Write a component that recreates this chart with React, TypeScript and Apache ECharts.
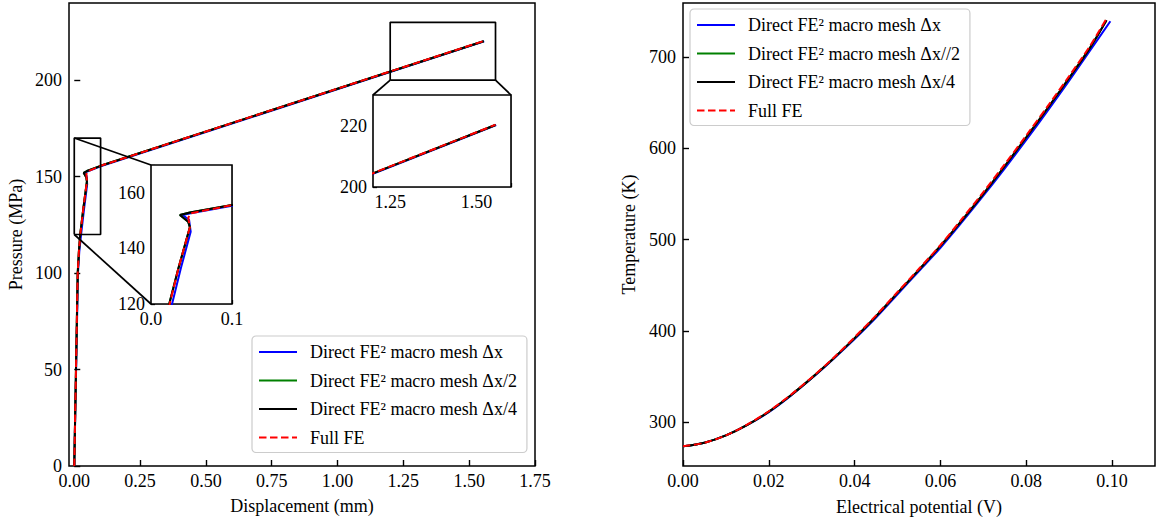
import React, { useEffect, useRef } from 'react';
import * as echarts from 'echarts';

const FONT = '"Liberation Serif", "Times New Roman", Times, serif';
const FS = 18;

const leftNames = ['Direct FE² macro mesh Δx', 'Direct FE² macro mesh Δx/2', 'Direct FE² macro mesh Δx/4', 'Full FE'];
const rightNames = ['Direct FE² macro mesh Δx', 'Direct FE² macro mesh Δx//2', 'Direct FE² macro mesh Δx/4', 'Full FE'];
const colors = ['#0000ff', '#008000', '#000000', '#ff0000'];

// axis ticks
const dispTicks = [0, 0.25, 0.5, 0.75, 1.0, 1.25, 1.5, 1.75];
const pressTicks = [0, 50, 100, 150, 200];
const potTicks = [0, 0.02, 0.04, 0.06, 0.08, 0.1];
const tempTicks = [300, 400, 500, 600, 700];
const inset1XLabels = [0, 0.1];
const inset1YLabels = [120, 140, 160];
const inset2XLabels = [1.25, 1.5];
const inset2YLabels = [200, 220];

// zoom windows (data units)
const zoom1X = [0, 0.1];
const zoom1Y = [120, 170];
const zoom2X = [1.2, 1.6];
const zoom2Y = [200, 230];

// Left: displacement (mm) vs pressure (MPa)
const dispDx = [0, 0.007, 0.014, 0.019, 0.026, 0.037, 0.049, 0.047, 0.039, 0.049, 0.1, 1.557];
const pressDx = [0, 50, 100, 111, 120, 133, 146, 150.3, 152, 152.6, 155.3, 220.2];
const dispDx2 = [0, 0.0065, 0.013, 0.0175, 0.0225, 0.034, 0.048, 0.0459, 0.0357, 0.048, 0.1, 1.555];
const pressDx2 = [0, 50, 100, 111, 120, 133, 147.6, 149.6, 152, 152.9, 155.6, 220.2];
const dispDx4 = [0, 0.0065, 0.013, 0.0175, 0.0225, 0.034, 0.048, 0.0459, 0.0357, 0.048, 0.1, 1.555];
const pressDx4 = [0, 50, 100, 111, 120, 133, 147.6, 149.6, 152, 152.9, 155.6, 220.2];
const dispFE = [0, 0.0065, 0.013, 0.0175, 0.023, 0.034, 0.048, 0.046, 0.049, 0.1, 1.555];
const pressFE = [0, 50, 100, 111, 120, 133, 147.6, 151, 152.6, 155.6, 220.3];

// Right: electrical potential (V) vs temperature (K)
const potDx = [0, 0.005, 0.01, 0.015, 0.02, 0.025, 0.03, 0.035, 0.04, 0.045, 0.05, 0.055, 0.06, 0.065, 0.07, 0.075, 0.08, 0.085, 0.09, 0.095, 0.0996];
const tempDx = [273.5, 277.5, 285.5, 297, 311, 328.5, 348, 369, 391, 414.5, 440, 465.5, 491, 519, 548, 578, 609, 641, 674, 708, 739];
const potDx2 = [0, 0.005, 0.01, 0.015, 0.02, 0.025, 0.03, 0.035, 0.04, 0.045, 0.05, 0.055, 0.06, 0.065, 0.07, 0.075, 0.08, 0.085, 0.09, 0.095, 0.0987];
const tempDx2 = [273.5, 277.5, 285.5, 297, 311.5, 329, 348.5, 369.5, 392, 416, 441.5, 467, 493, 521, 550, 580.5, 612, 644, 677, 711, 740];
const potDx4 = [0, 0.005, 0.01, 0.015, 0.02, 0.025, 0.03, 0.035, 0.04, 0.045, 0.05, 0.055, 0.06, 0.065, 0.07, 0.075, 0.08, 0.085, 0.09, 0.095, 0.0987];
const tempDx4 = [273.5, 277.5, 285.5, 297, 311.5, 329, 348.5, 369.5, 392, 416, 441.5, 467, 493, 521, 550, 580.5, 612, 644, 677, 711, 740];
const potFE = [0, 0.005, 0.01, 0.015, 0.02, 0.025, 0.03, 0.035, 0.04, 0.045, 0.05, 0.055, 0.06, 0.065, 0.07, 0.075, 0.08, 0.085, 0.09, 0.095, 0.0987];
const tempFE = [273.5, 277.5, 285.5, 297.5, 312, 329.5, 349, 370, 393, 417, 442.5, 468, 494, 522.5, 552, 582.5, 614, 646, 679, 713, 742];

const pairs = (xs: number[], ys: number[]) => xs.map((x, i) => [x, ys[i]]);
const near = (a: number, list: number[]) => list.some((b) => Math.abs(a - b) < 1e-6);

const leftData = [pairs(dispDx, pressDx), pairs(dispDx2, pressDx2), pairs(dispDx4, pressDx4), pairs(dispFE, pressFE)];
const rightData = [pairs(potDx, tempDx), pairs(potDx2, tempDx2), pairs(potDx4, tempDx4), pairs(potFE, tempFE)];

const labelStyle = { color: '#000', fontFamily: FONT, fontSize: FS };

function mainAxis(gi: number, min: number, max: number, ticks: number[], fmt: (v: number) => string, name: string, nameGap: number, isX: boolean) {
  return {
    gridIndex: gi,
    type: 'value',
    min,
    max,
    name,
    nameLocation: 'middle',
    nameGap,
    nameTextStyle: { ...labelStyle },
    axisLine: { show: false },
    axisTick: { show: true, inside: true, length: 6, customValues: ticks, lineStyle: { color: '#000', width: 1.4 } },
    axisLabel: { ...labelStyle, customValues: ticks, formatter: fmt, margin: isX ? 6 : 7 },
    splitLine: { show: false },
  };
}

function insetAxis(gi: number, min: number, max: number, interval: number, labels: number[], fmt: (v: number) => string) {
  return {
    gridIndex: gi,
    type: 'value',
    min,
    max,
    interval,
    axisLine: { show: false },
    axisTick: { show: true, inside: true, length: 4, lineStyle: { color: '#000', width: 1.3 } },
    axisLabel: { ...labelStyle, margin: 6, showMinLabel: true, showMaxLabel: true, formatter: (v: number) => (near(v, labels) ? fmt(v) : '') },
    splitLine: { show: true, lineStyle: { color: '#c4c4c4', width: 1 } },
  };
}

function lineSeries(name: string, gi: number, data: number[][], idx: number, z: number, smooth: boolean) {
  return {
    type: 'line',
    name,
    xAxisIndex: gi,
    yAxisIndex: gi,
    data,
    symbol: 'none',
    showSymbol: false,
    smooth: smooth ? 0.3 : false,
    clip: true,
    z,
    itemStyle: { color: colors[idx] },
    lineStyle: { color: colors[idx], width: 2, type: idx === 3 ? [7.5, 3.5] : 'solid' },
  };
}

function boxData(xs: number[], ys: number[]) {
  return [[xs[0], ys[0]], [xs[1], ys[0]], [xs[1], ys[1]], [xs[0], ys[1]], [xs[0], ys[0]]];
}

const legendBase = {
  orient: 'vertical',
  itemWidth: 38,
  itemHeight: 14,
  itemGap: 8.5,
  backgroundColor: 'rgba(255,255,255,0.85)',
  borderColor: '#cccccc',
  borderWidth: 1.2,
  borderRadius: 4,
  padding: [6, 10, 5, 6],
  itemStyle: { opacity: 0 },
  textStyle: { ...labelStyle, lineHeight: 20, padding: [0, 0, 0, 8] },
};

export default function App() {
  const ref = useRef<HTMLDivElement>(null);
  useEffect(() => {
    if (!ref.current) return;
    const chart = echarts.init(ref.current, null, { renderer: 'svg' });
    const series: any[] = [];
    [0, 1, 2].forEach((gi) => {
      leftNames.forEach((n, i) => series.push(lineSeries(n, gi, leftData[i], i, 3 + i, false)));
    });
    rightNames.forEach((n, i) => series.push(lineSeries(n, 3, rightData[i], i, 3 + i, true)));
    series.push({ type: 'line', name: 'zoom-box-1', xAxisIndex: 0, yAxisIndex: 0, data: boxData(zoom1X, zoom1Y), symbol: 'none', z: 8, lineStyle: { color: '#000', width: 1.7 }, itemStyle: { color: '#000' } });
    series.push({ type: 'line', name: 'zoom-box-2', xAxisIndex: 0, yAxisIndex: 0, data: boxData(zoom2X, zoom2Y), symbol: 'none', z: 8, lineStyle: { color: '#000', width: 1.7 }, itemStyle: { color: '#000' } });

    const option: any = {
      animation: false,
      backgroundColor: '#ffffff',
      textStyle: { fontFamily: FONT },
      grid: [
        { left: 69, top: 3, width: 466, height: 463, show: true, borderColor: '#000', borderWidth: 1.5, backgroundColor: 'transparent' },
        { left: 151, top: 165, width: 81, height: 139, show: true, borderColor: '#000', borderWidth: 1.6, backgroundColor: '#fff', z: 2 },
        { left: 373, top: 95, width: 138, height: 92, show: true, borderColor: '#000', borderWidth: 1.6, backgroundColor: '#fff', z: 2 },
        { left: 683, top: 3, width: 472, height: 463, show: true, borderColor: '#000', borderWidth: 1.5, backgroundColor: 'transparent' },
      ],
      xAxis: [
        mainAxis(0, -0.02, 1.75, dispTicks, (v) => v.toFixed(2), 'Displacement (mm)', 31, true),
        insetAxis(1, zoom1X[0], zoom1X[1], 0.02, inset1XLabels, (v) => v.toFixed(1)),
        insetAxis(2, zoom2X[0], zoom2X[1], 0.05, inset2XLabels, (v) => v.toFixed(2)),
        mainAxis(3, 0, 0.11, potTicks, (v) => v.toFixed(2), 'Electrical potential (V)', 32, true),
      ],
      yAxis: [
        mainAxis(0, 0, 240, pressTicks, (v) => String(v), 'Pressure (MPa)', 44, false),
        insetAxis(1, zoom1Y[0], zoom1Y[1], 5, inset1YLabels, (v) => String(Math.round(v))),
        insetAxis(2, zoom2Y[0], zoom2Y[1], 5, inset2YLabels, (v) => String(Math.round(v))),
        mainAxis(3, 252, 759, tempTicks, (v) => String(v), 'Temperature (K)', 45, false),
      ],
      legend: [
        { ...legendBase, left: 252, top: 336, data: leftNames },
        { ...legendBase, left: 690, top: 9, data: rightNames },
      ],
      series,
    };
    chart.setOption(option);

    const p = (gi: number, pt: number[]) => chart.convertToPixel({ xAxisIndex: gi, yAxisIndex: gi } as any, pt) as number[];
    const conn = (a: number[], b: number[]) => ({
      type: 'line',
      z: 10,
      shape: { x1: a[0], y1: a[1], x2: b[0], y2: b[1] },
      style: { stroke: '#000', lineWidth: 1.7 },
    });
    chart.setOption({
      graphic: [
        conn(p(0, [zoom1X[0], zoom1Y[1]]), p(1, [zoom1X[0], zoom1Y[1]])),
        conn(p(0, [zoom1X[0], zoom1Y[0]]), p(1, [zoom1X[0], zoom1Y[0]])),
        conn(p(0, [zoom2X[0], zoom2Y[0]]), p(2, [zoom2X[0], zoom2Y[1]])),
        conn(p(0, [zoom2X[1], zoom2Y[0]]), p(2, [zoom2X[1], zoom2Y[1]])),
      ],
    });
    return () => chart.dispose();
  }, []);
  return <div ref={ref} style={{ position: 'fixed', left: 0, top: 0, width: 1156, height: 523 }} />;
}
